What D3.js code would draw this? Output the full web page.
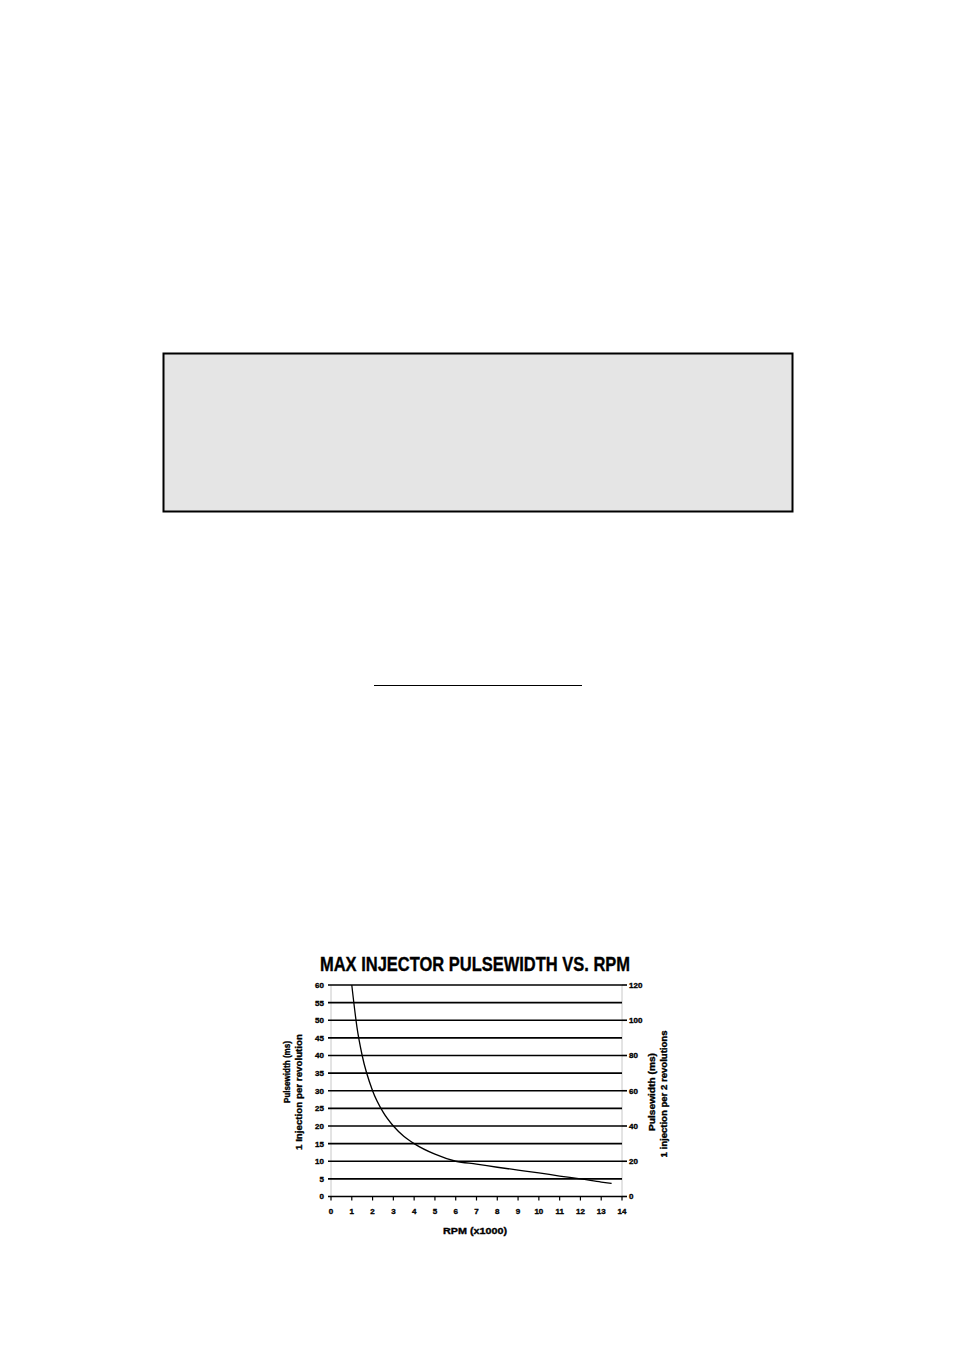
<!DOCTYPE html>
<html>
<head>
<meta charset="utf-8">
<script src="https://cdn.jsdelivr.net/npm/d3@7"></script>
<style>
  body { margin: 0; background: #fff; }
  text { font-family: "Liberation Sans", Arial, sans-serif; font-weight: bold; fill: #000; stroke: #000; stroke-width: 0.35; }
</style>
</head>
<body>
<div id="page"></div>
<script>
// page size
var width = 954, height = 1350;

// chart data
var rpm = [1, 1.25, 1.5, 2, 2.5, 3, 3.5, 4, 5, 6, 7, 8, 9, 10, 11, 12, 13, 13.5];
var pulseMs = [60, 48, 40, 30, 24, 20, 17.1, 15, 12, 10, 9.2, 8.3, 7.5, 6.7, 5.8, 5, 4.1, 3.7];
var leftTicks = [0, 5, 10, 15, 20, 25, 30, 35, 40, 45, 50, 55, 60];
var rightTicks = [0, 20, 40, 60, 80, 100, 120];
var xTicks = [0, 1, 2, 3, 4, 5, 6, 7, 8, 9, 10, 11, 12, 13, 14];

var svg = d3.select("#page")
    .append("svg")
    .attr("width", width)
    .attr("height", height);

// grey note box
svg.append("rect")
    .attr("x", 163.5).attr("y", 353.5)
    .attr("width", 629).attr("height", 158)
    .attr("fill", "#e5e5e5")
    .attr("stroke", "#000")
    .attr("stroke-width", 2);

// short rule in the middle of the page
svg.append("line")
    .attr("x1", 374).attr("x2", 582)
    .attr("y1", 685.5).attr("y2", 685.5)
    .attr("stroke", "#000")
    .attr("stroke-width", 1.2);

// scales
var x = d3.scaleLinear().domain([0, 14]).range([331, 622]);
var y = d3.scaleLinear().domain([0, 60]).range([1196.5, 985]);
var y2 = d3.scaleLinear().domain([0, 120]).range([1196.5, 985]);

var chart = svg.append("g");

// title
chart.append("text")
    .attr("x", 475).attr("y", 970.5)
    .attr("text-anchor", "middle")
    .attr("font-size", 19.5)
    .attr("stroke-width", 0.7)
    .attr("textLength", 310)
    .attr("lengthAdjust", "spacingAndGlyphs")
    .text("MAX INJECTOR PULSEWIDTH VS. RPM");

// vertical axis lines (light grey)
chart.selectAll(".vaxis")
    .data([0, 14])
    .join("line")
    .attr("class", "vaxis")
    .attr("x1", function(d) { return x(d); })
    .attr("x2", function(d) { return x(d); })
    .attr("y1", y(60)).attr("y2", y(0))
    .attr("stroke", "#c8c8c8")
    .attr("stroke-width", 1);

// gridlines, every 5 ms
chart.selectAll(".grid")
    .data(leftTicks)
    .join("line")
    .attr("class", "grid")
    .attr("x1", x(0) - 3)
    .attr("x2", x(14))
    .attr("y1", function(d) { return y(d); })
    .attr("y2", function(d) { return y(d); })
    .attr("stroke", "#000")
    .attr("stroke-width", 1.6);

// right axis ticks
chart.selectAll(".rtick")
    .data(rightTicks)
    .join("line")
    .attr("class", "rtick")
    .attr("x1", x(14)).attr("x2", x(14) + 5)
    .attr("y1", function(d) { return y2(d); })
    .attr("y2", function(d) { return y2(d); })
    .attr("stroke", "#000")
    .attr("stroke-width", 1.6);

// left labels
chart.selectAll(".llab")
    .data(leftTicks)
    .join("text")
    .attr("class", "llab")
    .attr("x", 324)
    .attr("y", function(d) { return y(d) + 2.9; })
    .attr("text-anchor", "end")
    .attr("font-size", 8)
    .text(function(d) { return d; });

// right labels
chart.selectAll(".rlab")
    .data(rightTicks)
    .join("text")
    .attr("class", "rlab")
    .attr("x", 629)
    .attr("y", function(d) { return y2(d) + 2.9; })
    .attr("text-anchor", "start")
    .attr("font-size", 8)
    .text(function(d) { return d; });

// x axis ticks and labels
chart.selectAll(".xtick")
    .data(xTicks)
    .join("line")
    .attr("class", "xtick")
    .attr("x1", function(d) { return x(d); })
    .attr("x2", function(d) { return x(d); })
    .attr("y1", y(0)).attr("y2", y(0) + 4)
    .attr("stroke", "#000")
    .attr("stroke-width", 1.2);

chart.selectAll(".xlab")
    .data(xTicks)
    .join("text")
    .attr("class", "xlab")
    .attr("x", function(d) { return x(d); })
    .attr("y", 1214)
    .attr("text-anchor", "middle")
    .attr("font-size", 8)
    .text(function(d) { return d; });

// axis titles
chart.append("text")
    .attr("x", 475).attr("y", 1233.5)
    .attr("text-anchor", "middle")
    .attr("font-size", 9.5)
    .attr("textLength", 64)
    .attr("lengthAdjust", "spacingAndGlyphs")
    .text("RPM (x1000)");

var axisTitles = [
    { x: 290, y: 1072, len: 62, t: "Pulsewidth (ms)" },
    { x: 302, y: 1092, len: 116, t: "1  Injection per revolution" },
    { x: 655, y: 1092, len: 78, t: "Pulsewidth (ms)" },
    { x: 667, y: 1094, len: 127, t: "1 injection per 2 revolutions" }
];

chart.selectAll(".ytitle")
    .data(axisTitles)
    .join("text")
    .attr("class", "ytitle")
    .attr("transform", function(d) { return "translate(" + d.x + "," + d.y + ") rotate(-90)"; })
    .attr("text-anchor", "middle")
    .attr("font-size", 8.5)
    .attr("textLength", function(d) { return d.len; })
    .attr("lengthAdjust", "spacingAndGlyphs")
    .text(function(d) { return d.t; });

// the curve
var line = d3.line()
    .x(function(d, i) { return x(rpm[i]); })
    .y(function(d) { return y(d); })
    .curve(d3.curveMonotoneX);

chart.append("path")
    .datum(pulseMs)
    .attr("d", line)
    .attr("fill", "none")
    .attr("stroke", "#000")
    .attr("stroke-width", 1.3);
</script>
</body>
</html>
